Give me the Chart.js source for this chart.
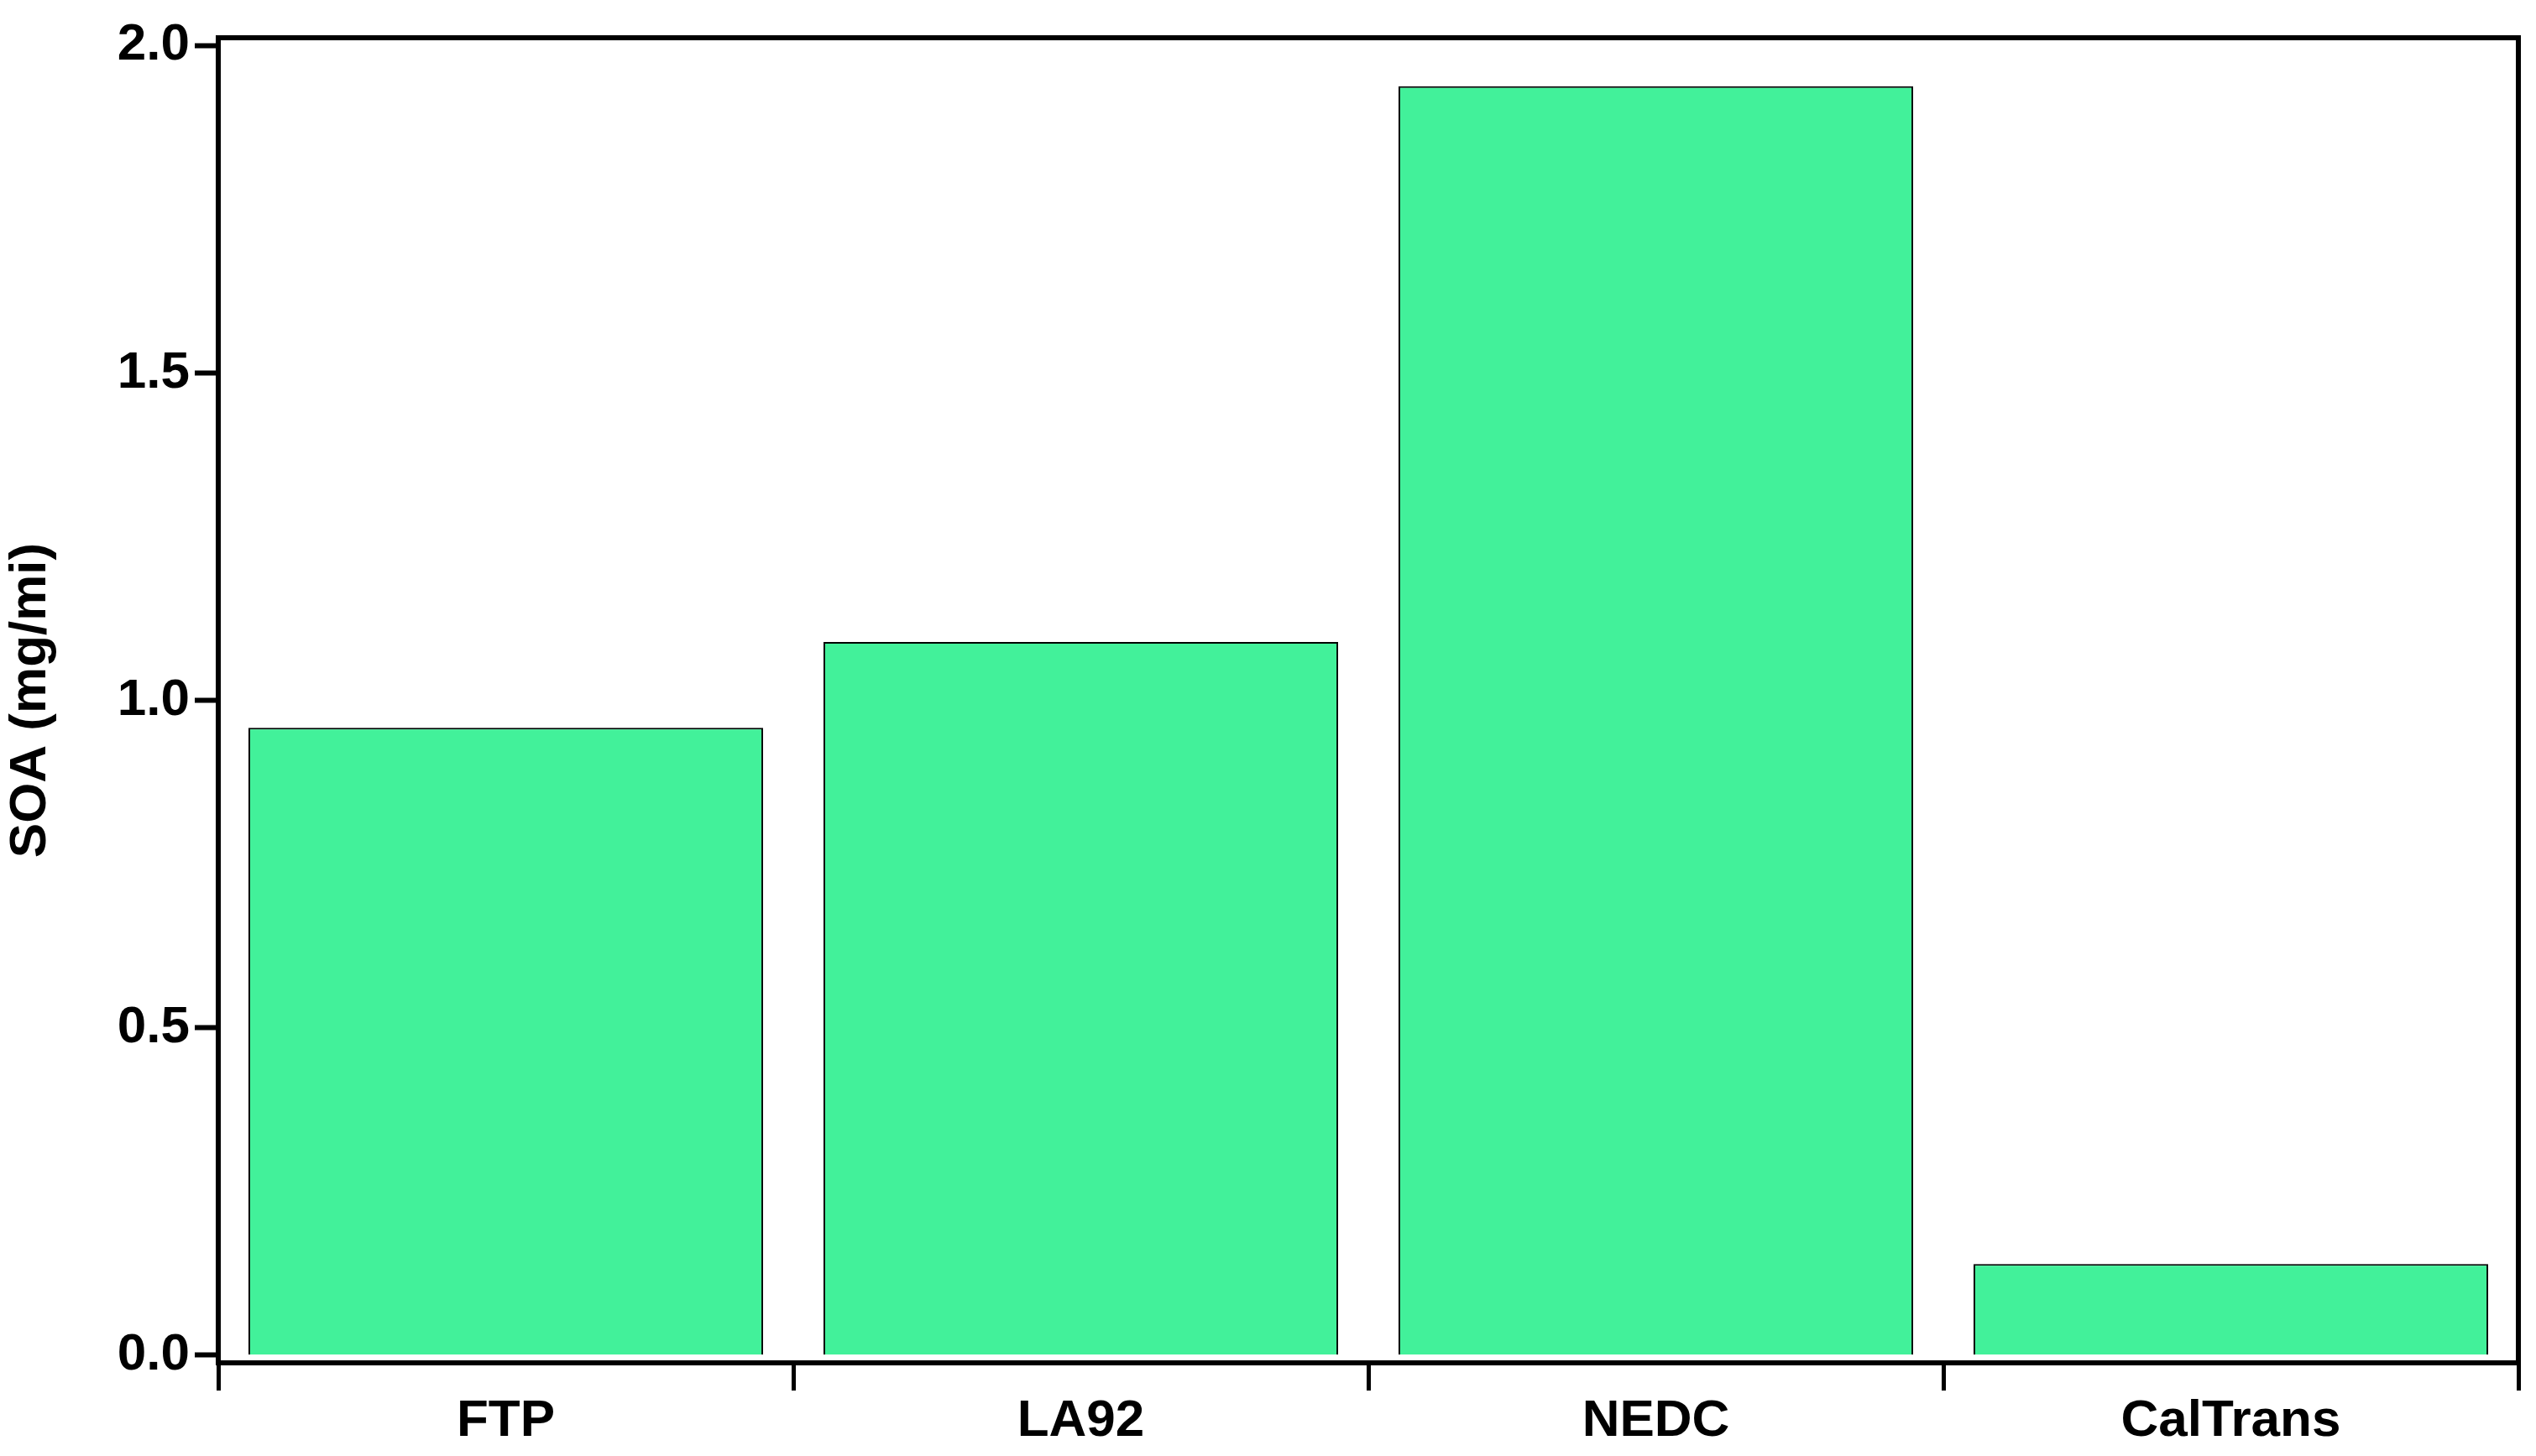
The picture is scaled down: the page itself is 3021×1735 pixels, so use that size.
<!DOCTYPE html>
<html><head><meta charset="utf-8">
<script src="https://cdn.jsdelivr.net/npm/chart.js@4"></script>
<style>html,body{margin:0;padding:0;background:#fff}#w{width:3021px;height:1735px}</style>
</head><body><div id="w"><canvas id="c"></canvas></div>
<script>
const categories = ["FTP", "LA92", "NEDC", "CalTrans"];
const soaValues = [0.958, 1.089, 1.938, 0.139];
const yTicks = [0, 0.5, 1.0, 1.5, 2.0];

const frame = {
  id: 'frame',
  afterDraw(chart) {
    const {ctx, chartArea: a} = chart;
    ctx.save();
    ctx.strokeStyle = '#000';
    ctx.lineWidth = 6;
    ctx.strokeRect(a.left, a.top, a.right - a.left, a.bottom - a.top);
    ctx.restore();
  }
};

new Chart(document.getElementById('c'), {
  type: 'bar',
  data: { labels: categories, datasets: [{
    data: soaValues, backgroundColor: '#42F19A', borderColor: '#000', borderWidth: 2,
    barPercentage: 0.895, categoryPercentage: 1.0
  }]},
  options: {
    responsive: true, maintainAspectRatio: false, animation: false,
    devicePixelRatio: 1,
    layout: { padding: { top: 45, right: 21, left: 0, bottom: 0 } },
    plugins: { legend: { display: false }, tooltip: { enabled: false } },
    scales: {
      x: {
        offset: true,
        grid: { offset: true, drawOnChartArea: false, drawTicks: true, tickLength: 33, tickWidth: 5, color: '#000' },
        border: { display: true, color: '#000', width: 6 },
        ticks: { color: '#000', font: { family: 'Liberation Sans, Arial', weight: 'bold', size: 62 }, padding: 0 },
        afterFit(s) { s.height = 111; }
      },
      y: {
        min: -0.012, max: 2.012,
        afterBuildTicks(s) { s.ticks = yTicks.map(v => ({ value: v })); },
        grid: { drawOnChartArea: false, drawTicks: true, tickLength: 28, tickWidth: 6, color: '#000' },
        border: { display: true, color: '#000', width: 6 },
        ticks: { color: '#000', font: { family: 'Liberation Sans, Arial', weight: 'bold', size: 62 }, padding: 6,
          callback: v => Number(v).toFixed(1) },
        title: { display: true, text: 'SOA (mg/mi)', color: '#000', font: { family: 'Liberation Sans, Arial', weight: 'bold', size: 62 }, padding: { top: 0, bottom: 20 } },
        afterFit(s) { s.width = 260; }
      }
    }
  },
  plugins: [frame]
});
</script></body></html>
